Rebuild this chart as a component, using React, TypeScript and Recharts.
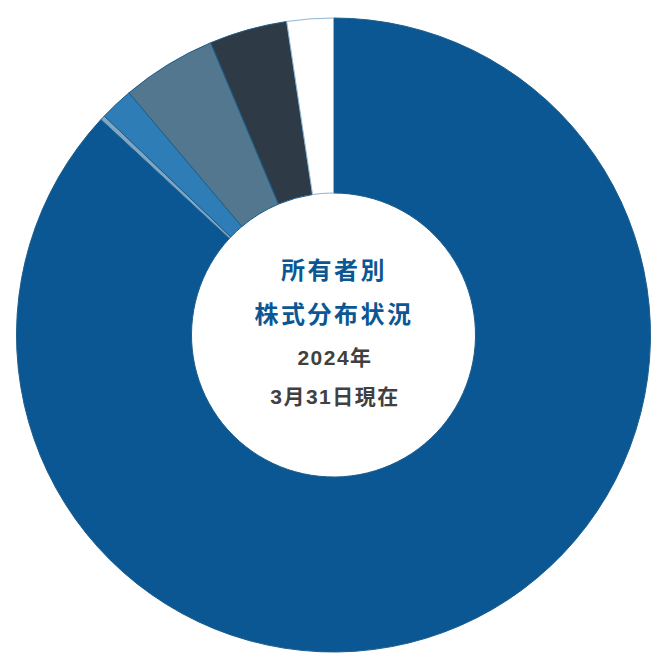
import React from "react";
import { PieChart, Pie, Cell } from "recharts";

const categories = ["区分A", "区分B", "区分C", "区分D", "区分E", "区分F"];
const values = [86.88, 0.25, 1.7, 4.83, 3.97, 2.36];
const colors = ["#0b5793", "#7fa6c4", "#2f7db6", "#53778f", "#2e3b46", "#ffffff"];
const strokes = ["#1b5e8c", "#1b5e8c", "#1b5e8c", "#1b5e8c", "#1b5e8c", "#8fb4d2"];
const titleLines = ["所有者別", "株式分布状況"];
const dateLines = ["2024年", "3月31日現在"];

const data = categories.map((name, i) => ({ name, value: values[i] }));

export default function App() {
  return (
    <div style={{ position: "relative", width: 654, height: 654 }}>
      <PieChart width={654} height={654} margin={{ top: 0, right: 0, bottom: 0, left: 0 }}>
        <Pie
          data={data}
          dataKey="value"
          nameKey="name"
          cx={325.5}
          cy={327}
          innerRadius={142}
          outerRadius={317}
          startAngle={90}
          endAngle={-270}
          isAnimationActive={false}
        >
          {data.map((d, i) => (
            <Cell key={d.name} fill={colors[i]} stroke={strokes[i]} strokeWidth={1} />
          ))}
        </Pie>
      </PieChart>
      <svg
        width={654}
        height={654}
        style={{ position: "absolute", left: 0, top: 0, pointerEvents: "none" }}
      >
        {titleLines.map((t, i) => (
          <text
            key={t}
            x={326}
            y={262 + i * 44}
            textAnchor="middle"
            dominantBaseline="central"
            fill="#0b5793"
            fontSize={24}
            fontWeight="bold"
            letterSpacing={2.5}
            fontFamily="'Liberation Sans', 'Noto Sans CJK JP', sans-serif"
          >
            {t}
          </text>
        ))}
        {dateLines.map((t, i) => (
          <text
            key={t}
            x={327}
            y={349 + i * 39}
            textAnchor="middle"
            dominantBaseline="central"
            fill="#404040"
            fontSize={21}
            fontWeight="bold"
            letterSpacing={1.5}
            fontFamily="'Liberation Sans', 'Noto Sans CJK JP', sans-serif"
          >
            {t}
          </text>
        ))}
      </svg>
    </div>
  );
}
